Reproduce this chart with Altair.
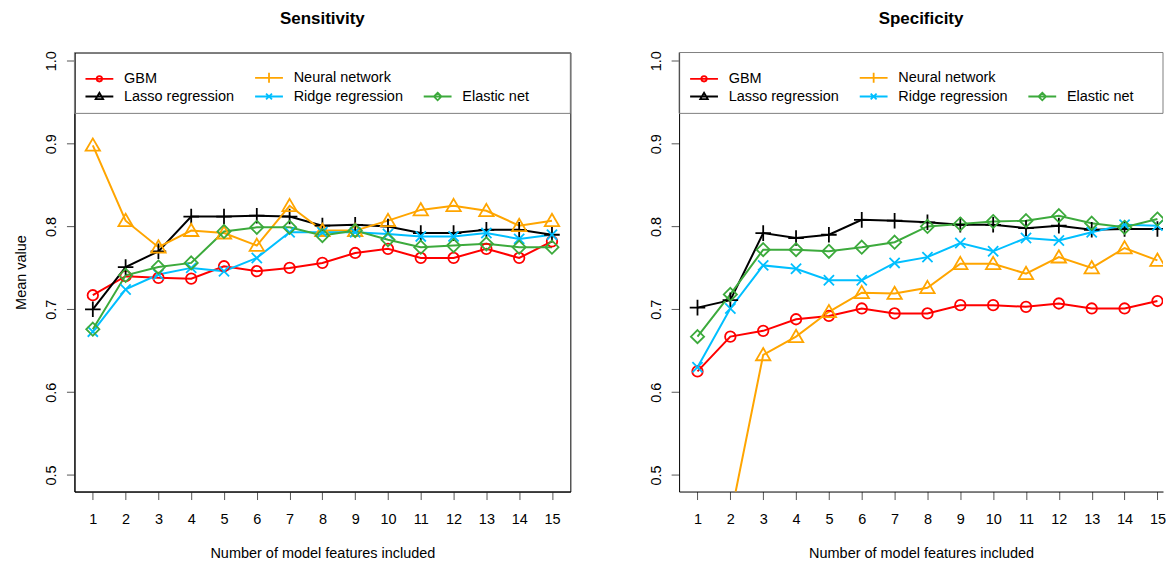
import altair as alt
import pandas as pd

features = list(range(1, 16))
models = ["GBM", "Lasso regression", "Neural network", "Ridge regression", "Elastic net"]
colors = ["#FF0000", "#000000", "#FFA500", "#00BFFF", "#3CAA3C"]

# Sensitivity
sens_gbm = [0.717, 0.740, 0.738, 0.737, 0.752, 0.746, 0.750, 0.756, 0.768, 0.773, 0.762, 0.762, 0.773, 0.762, 0.782]
sens_lasso = [0.700, 0.751, 0.770, 0.812, 0.812, 0.813, 0.812, 0.801, 0.802, 0.800, 0.792, 0.792, 0.796, 0.796, 0.790]
sens_nn = [0.898, 0.807, 0.775, 0.795, 0.792, 0.777, 0.825, 0.795, 0.795, 0.807, 0.820, 0.825, 0.819, 0.801, 0.807]
sens_ridge = [0.673, 0.724, 0.742, 0.750, 0.746, 0.762, 0.793, 0.793, 0.793, 0.791, 0.788, 0.788, 0.792, 0.785, 0.790]
sens_enet = [0.676, 0.741, 0.751, 0.756, 0.794, 0.799, 0.799, 0.789, 0.795, 0.784, 0.775, 0.777, 0.779, 0.775, 0.775]

# Specificity
spec_gbm = [0.625, 0.667, 0.674, 0.688, 0.692, 0.701, 0.695, 0.695, 0.705, 0.705, 0.703, 0.707, 0.701, 0.701, 0.710]
spec_lasso = [0.702, 0.711, 0.792, 0.786, 0.790, 0.808, 0.807, 0.805, 0.802, 0.802, 0.798, 0.801, 0.796, 0.797, 0.797]
spec_nn = [0.420, 0.448, 0.645, 0.667, 0.697, 0.720, 0.719, 0.726, 0.755, 0.755, 0.743, 0.763, 0.750, 0.774, 0.759]
spec_ridge = [0.630, 0.701, 0.753, 0.749, 0.735, 0.735, 0.756, 0.763, 0.780, 0.770, 0.786, 0.783, 0.793, 0.802, 0.801]
spec_enet = [0.667, 0.718, 0.772, 0.772, 0.770, 0.775, 0.781, 0.800, 0.803, 0.806, 0.807, 0.813, 0.804, 0.799, 0.809]

y_ticks = [0.5, 0.6, 0.7, 0.8, 0.9, 1.0]

FONT = "Liberation Sans"

# plot marker shapes (R pch 1, 3, 2, 4, 5)
plot_shapes = [
    "M0.875,0A0.875,0.875 0 1,1 -0.875,0A0.875,0.875 0 1,1 0.875,0Z",
    "M-1.3,0H1.3M0,-1.3V1.3",
    "M0,-1.15L1.2,0.9L-1.2,0.9Z",
    "M-0.85,-0.85L0.85,0.85M-0.85,0.85L0.85,-0.85",
    "M0,-1.1L1.1,0L0,1.1L-1.1,0Z",
]

# legend entries (column-major, 3 columns x 2 rows, as in the reference)
leg_domain = ["GBM", "Lasso regression", "Neural network", "Ridge regression", " ", "Elastic net"]
leg_colors = ["#FF0000", "#000000", "#FFA500", "#00BFFF", "transparent", "#3CAA3C"]
LINE = "M-1.55,0H1.55"
leg_shapes = [
    LINE + "M0.3,0A0.3,0.3 0 1,1 -0.3,0A0.3,0.3 0 1,1 0.3,0Z",
    LINE + "M0,-0.42L0.42,0.3L-0.42,0.3Z",
    LINE + "M0,-0.55V0.55",
    LINE + "M-0.33,-0.33L0.33,0.33M-0.33,0.33L0.33,-0.33",
    "M0,0",
    LINE + "M0,-0.42L0.42,0L0,0.42L-0.42,0Z",
]


def make_df(series):
    rows = []
    for m, vals in zip(models, series):
        for f, v in zip(features, vals):
            rows.append({"feature": f, "value": v, "model": m})
    return pd.DataFrame(rows)


def panel(df, title, y_title, width, xmax, box_stroke):
    height = 440
    base = alt.Chart(df)
    xenc = alt.X(
        "feature:Q",
        scale=alt.Scale(domain=[0.44, xmax], nice=False, zero=False),
        axis=alt.Axis(values=features, title="Number of model features included",
                      tickSize=8, labelPadding=13.5, titlePadding=19.8, grid=False,
                      labelFlush=False, labelOverlap=False),
    )
    yaxis = dict(values=y_ticks, format=".1f", labelAngle=270, labelAlign="center",
                 labelBaseline="alphabetic", labelPadding=10.5, tickSize=8, grid=False,
                 labelFlush=False, labelOverlap=False)
    if y_title:
        yaxis["title"] = y_title
        yaxis["titlePadding"] = 15.7
    else:
        yaxis["title"] = ""
    yenc = alt.Y("value:Q", scale=alt.Scale(domain=[0.48, 1.01], nice=False, zero=False),
                 axis=alt.Axis(**yaxis))
    color = alt.Color("model:N", scale=alt.Scale(domain=models, range=colors), legend=None)

    lines = base.mark_line(strokeWidth=2, clip=True).encode(
        x=xenc, y=yenc, color=color, order="feature:Q")
    points = base.mark_point(filled=False, size=144, strokeWidth=1.8, opacity=1, clip=True).encode(
        x=xenc, y=yenc, color=color,
        shape=alt.Shape("model:N", scale=alt.Scale(domain=models, range=plot_shapes), legend=None))

    legbox = alt.Chart(alt.Data(values=[{"k": 1}])).mark_rect(
        fill="transparent", stroke="#808080", strokeWidth=1).encode(
        x=alt.value(0), x2=alt.value(width), y=alt.value(0), y2=alt.value(61))

    leg = alt.Legend(orient="none", legendX=15, legendY=15.1, columns=3, title=None,
                     labelFontSize=14.5, labelFont=FONT, labelColor="black",
                     symbolSize=324, symbolStrokeWidth=1.8, labelOffset=14.7,
                     columnPadding=16, rowPadding=-2, padding=0, labelBaseline="middle")
    legend_layer = base.transform_filter("false").mark_point(
        filled=False, size=324, strokeWidth=1.8, opacity=1).encode(
        color=alt.Color("model:N", scale=alt.Scale(domain=leg_domain, range=leg_colors), legend=leg),
        shape=alt.Shape("model:N", scale=alt.Scale(domain=leg_domain, range=leg_shapes), legend=leg),
    )

    return alt.layer(lines, points, legbox, legend_layer).resolve_scale(
        color="independent", shape="independent"
    ).properties(
        width=width, height=height,
        title=alt.TitleParams(title, fontSize=17, fontWeight="bold", anchor="middle",
                              font=FONT, color="black", offset=22.9),
        view=alt.ViewBackground(stroke=box_stroke, strokeWidth=1),
    )


df_sens = make_df([sens_gbm, sens_lasso, sens_nn, sens_ridge, sens_enet])
df_spec = make_df([spec_gbm, spec_lasso, spec_nn, spec_ridge, spec_enet])

left = panel(df_sens, "Sensitivity", "Mean value", 497, 15.56, "black")
right = panel(df_spec, "Specificity", None, 485, 15.17, "transparent")

chart = alt.hconcat(left, right, spacing=76).resolve_scale(
    color="independent", shape="independent", x="independent", y="independent"
).resolve_legend(color="independent", shape="independent").properties(
    padding={"left": 4.6, "top": 0, "right": 0, "bottom": 0}
).configure(font=FONT).configure_axis(
    labelFont=FONT, titleFont=FONT, labelFontSize=14.5, titleFontSize=14.5,
    titleFontWeight="normal", labelColor="black", titleColor="black",
    domainColor="black", domainWidth=1, tickColor="#555555", tickWidth=1,
)

chart.save("out.html", embed_options={"renderer": "svg", "actions": False})
